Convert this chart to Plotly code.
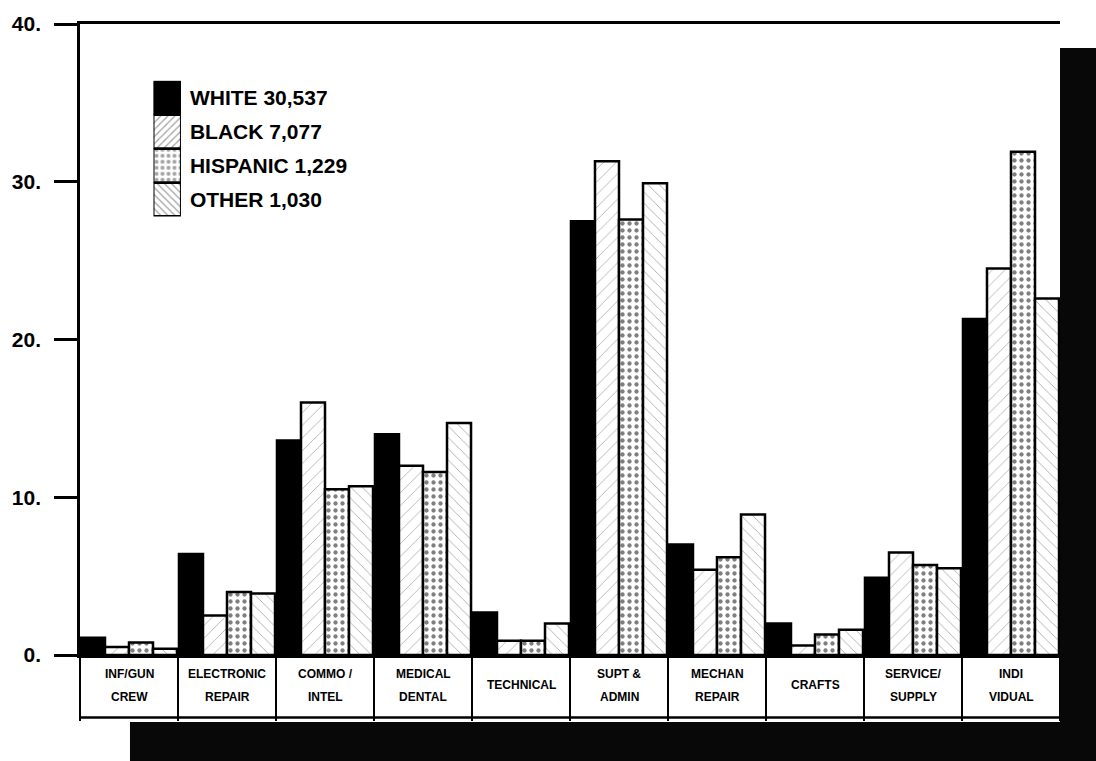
import plotly.graph_objects as go

# ---- data ----
categories = ["INF/GUN CREW", "ELECTRONIC REPAIR", "COMMO / INTEL", "MEDICAL DENTAL",
              "TECHNICAL", "SUPT & ADMIN", "MECHAN REPAIR", "CRAFTS",
              "SERVICE/ SUPPLY", "INDI VIDUAL"]
label_top = ["INF/GUN", "ELECTRONIC", "COMMO /", "MEDICAL", "TECHNICAL",
             "SUPT &", "MECHAN", "CRAFTS", "SERVICE/", "INDI"]
label_bottom = ["CREW", "REPAIR", "INTEL", "DENTAL", "",
                "ADMIN", "REPAIR", "", "SUPPLY", "VIDUAL"]

white = [1.1, 6.4, 13.6, 14.0, 2.7, 27.5, 7.0, 2.0, 4.9, 21.3]
black = [0.5, 2.5, 16.0, 12.0, 0.9, 31.3, 5.4, 0.6, 6.5, 24.5]
hispanic = [0.8, 4.0, 10.5, 11.6, 0.9, 27.6, 6.2, 1.3, 5.7, 31.9]
other = [0.4, 3.9, 10.7, 14.7, 2.0, 29.9, 8.9, 1.6, 5.5, 22.6]

series_names = ["WHITE 30,537", "BLACK 7,077", "HISPANIC 1,229", "OTHER 1,030"]

y_tickvals = [0, 10, 20, 30, 40]
y_ticktext = ["0.", "10.", "20.", "30.", "40."]

# ---- styles ----
bar_patterns = [
    dict(shape="", fgcolor="black", bgcolor="black"),
    dict(shape="/", fgcolor="#444444", bgcolor="white", size=9, solidity=0.08),
    dict(shape=".", fgcolor="black", bgcolor="white", size=7, solidity=0.3),
    dict(shape="\\", fgcolor="#444444", bgcolor="white", size=8, solidity=0.1),
]
bar_colors = ["black", "white", "white", "white"]

FONT = "Liberation Sans, Arial, Helvetica, sans-serif"

fig = go.Figure()
for vals, name, pat, col in zip([white, black, hispanic, other], series_names,
                                bar_patterns, bar_colors):
    fig.add_trace(go.Bar(
        x=categories, y=vals, name=name, showlegend=False,
        marker=dict(color=col, pattern=pat, line=dict(color="black", width=2.5)),
    ))

# legend drawn as a stacked swatch column (inset axes), labels as tick text
fig.add_trace(go.Bar(
    x=[1] * len(series_names), y=series_names, orientation="h",
    xaxis="x2", yaxis="y2", showlegend=False, hoverinfo="skip",
    marker=dict(
        color=bar_colors,
        pattern=dict(shape=["", "/", ".", "\\"], fgcolor="black",
                     bgcolor=["black", "white", "white", "white"],
                     size=[6, 5, 6, 5], solidity=[0.3, 0.25, 0.35, 0.25]),
        line=dict(color="black", width=2),
    ),
))

annotations = []
lab_font = dict(family=FONT, size=12, color="black", weight="bold")
for cat, t, b in zip(categories, label_top, label_bottom):
    if b:
        annotations.append(dict(x=cat, xref="x", y=-0.03, yref="paper", text=t,
                                showarrow=False, yanchor="middle", font=lab_font))
        annotations.append(dict(x=cat, xref="x", y=-0.066, yref="paper", text=b,
                                showarrow=False, yanchor="middle", font=lab_font))
    else:
        annotations.append(dict(x=cat, xref="x", y=-0.048, yref="paper", text=t,
                                showarrow=False, yanchor="middle", font=lab_font))

shapes = [
    dict(type="line", xref="paper", yref="paper", x0=0, x1=1, y0=-0.099, y1=-0.099,
         line=dict(color="black", width=2.5)),
    dict(type="rect", xref="paper", yref="paper", x0=1.0, x1=1.1, y0=-0.25, y1=0.962,
         fillcolor="#080808", line=dict(width=0), layer="above"),
    dict(type="rect", xref="paper", yref="paper", x0=0.051, x1=1.1, y0=-0.25, y1=-0.106,
         fillcolor="#080808", line=dict(width=0), layer="above"),
]

fig.update_layout(
    width=1096, height=761,
    margin=dict(l=80, r=36, t=19, b=106),
    paper_bgcolor="white", plot_bgcolor="rgba(0,0,0,0)",
    barmode="group", bargap=0.02, bargroupgap=0,
    font=dict(family=FONT, color="black"),
    showlegend=False,
    xaxis=dict(type="category", range=[-0.5, 9.5], showline=True, linecolor="black",
               linewidth=2.5, mirror=True, ticks="outside", tickson="boundaries",
               ticklen=63, tickwidth=2, tickcolor="black", showticklabels=False,
               showgrid=False, zeroline=False, fixedrange=True, domain=[0, 1]),
    yaxis=dict(range=[0, 40], tickvals=y_tickvals, ticktext=y_ticktext,
               showline=True, linecolor="black", linewidth=2.5,
               ticks="outside", ticklen=23, tickwidth=2.5, tickcolor="black",
               showgrid=False, zeroline=False, domain=[0, 1], ticklabelstandoff=9,
               tickfont=dict(family=FONT, size=21, color="black", weight="bold")),
    xaxis2=dict(domain=[0.075, 0.103], anchor="y2", range=[0, 1], visible=False,
                fixedrange=True),
    yaxis2=dict(domain=[0.695, 0.91], anchor="x2", type="category",
                autorange="reversed", side="right", showline=False, ticks="",
                showgrid=False, zeroline=False, ticklabelstandoff=8,
                tickfont=dict(family=FONT, size=21, color="black", weight="bold")),
    annotations=annotations,
    shapes=shapes,
)

fig.write_html("out.html", config={"displayModeBar": False},
               post_script="document.body.style.margin='0';")
